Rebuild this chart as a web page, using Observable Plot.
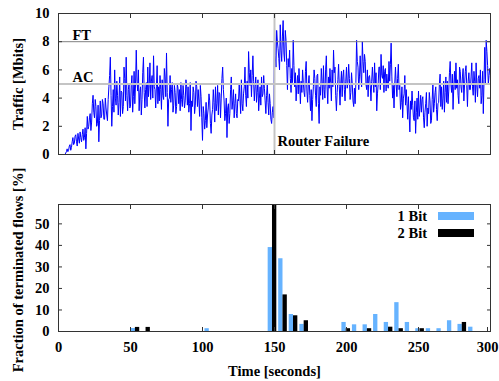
<!DOCTYPE html>
<html><head><meta charset="utf-8">
<script src="https://cdn.jsdelivr.net/npm/d3@7"></script>
<script src="https://cdn.jsdelivr.net/npm/@observablehq/plot@0.6"></script>
<style>
body{margin:0;background:#fff;}
#chart{position:relative;width:499px;height:381px;font-family:"Liberation Serif",serif;font-weight:bold;color:#000;}
#chart svg{display:block;}
.leg{position:absolute;font-size:14.5px;line-height:14px;white-space:nowrap;}
.sw{position:absolute;}
</style></head><body><div id="chart"></div>
<script>
// Traffic [Mbits] read at whole seconds (t = 0 .. 299)
const trafficWhole = [
0,0,0,0,0,0.1,0.4,0.3,0.7,0.5,
1.2,0.8,1.4,0.6,1.1,1.6,0.9,1.8,1.2,0.4,
2.7,2.0,2.9,2.3,4.2,2.6,3.4,2.2,0.9,3.8,
2.8,3.6,2.5,3.3,2.4,4.8,6.9,2.0,4.6,6.0,
3.5,4.2,3.7,2.7,4.4,3.4,5.4,6.9,3.1,5.0,
3.4,5.6,4.1,3.6,7.4,4.5,3.1,4.8,3.9,6.9,
3.3,5.1,6.2,4.9,3.9,5.6,7.0,4.6,4.8,3.6,
3.8,4.6,5.3,3.9,5.5,7.2,2.0,4.0,3.7,5.1,
3.5,4.4,3.4,4.7,4.6,5.1,3.4,4.2,3.8,4.8,
4.8,3.6,1.7,3.4,4.4,3.5,4.8,4.6,2.7,4.1,
1.0,2.9,2.4,1.9,3.3,3.8,1.5,3.2,3.7,4.8,
3.6,2.8,4.3,4.0,6.2,3.8,2.9,1.2,3.6,2.9,
5.5,3.8,2.6,4.3,2.6,3.8,4.0,5.3,3.1,4.8,
4.2,5.2,7.3,4.9,4.1,7.0,3.8,5.5,4.4,3.1,
4.8,5.5,4.3,4.7,2.9,5.0,2.8,3.6,2.2,3.4,
9.0,6.2,8.0,6.8,9.2,6.6,9.5,6.6,8.1,4.6,
6.2,5.4,6.1,8.1,4.8,3.8,5.6,6.1,3.6,4.4,
5.1,4.1,6.6,3.7,5.6,3.1,2.4,4.8,5.4,3.4,
5.7,2.2,4.2,5.2,6.3,4.0,7.0,3.6,4.7,5.1,
6.0,7.4,6.2,3.1,5.3,4.8,5.0,4.1,6.0,3.8,
6.2,5.1,5.4,4.4,5.0,3.4,3.6,8.1,6.2,5.5,
5.7,8.0,5.8,6.6,4.6,4.1,5.6,3.8,6.2,4.4,
4.8,3.1,5.0,6.2,7.1,5.4,4.4,6.1,5.7,4.7,
5.2,7.9,4.0,3.3,6.2,4.1,6.4,4.9,3.7,2.6,
4.3,3.5,3.6,4.1,1.6,3.2,3.5,2.4,1.5,4.0,
4.5,3.3,3.0,4.1,1.9,3.6,2.0,2.9,3.8,2.4,
5.0,3.6,4.8,2.4,3.7,5.7,4.8,4.0,3.0,5.5,
5.2,4.5,6.6,4.4,3.2,5.9,6.5,5.3,3.6,5.9,
4.4,6.1,5.0,6.3,3.4,5.8,4.6,6.5,4.2,5.2,
6.5,4.1,5.6,6.0,4.2,2.9,7.6,8.1,6.3,5.6
];
// Traffic [Mbits] read at half seconds (t = 0.5 .. 299.5)
const trafficHalf = [
0,0,0,0,0,0.2,0.2,0.6,0.3,0.9,
0.7,1.3,0.9,1.5,0.8,1.2,1.4,1.0,1.9,1.5,
1.8,2.6,1.7,3.6,3.0,3.9,2.0,3.5,2.4,2.6,
3.9,2.5,4.0,2.8,3.9,5.6,4.2,3.4,3.0,4.0,
5.2,2.8,5.5,4.5,2.9,6.2,3.8,4.2,4.6,3.3,
4.9,3.0,5.9,5.0,5.2,6.0,4.4,2.8,5.8,4.4,
4.6,3.4,4.1,6.5,5.2,4.0,4.8,3.3,6.3,4.8,
5.6,3.2,4.2,6.1,4.1,4.4,3.9,5.6,4.6,3.0,
4.9,2.9,5.0,3.6,3.1,3.9,4.9,3.3,5.3,3.5,
3.0,5.1,3.8,4.8,2.9,5.2,3.4,3.8,4.9,2.6,
3.4,1.8,3.7,2.8,4.3,2.2,2.8,4.6,2.3,3.1,
4.9,4.4,2.6,5.4,4.6,2.4,4.0,3.3,2.2,4.6,
3.2,4.6,3.6,2.9,3.9,5.0,2.9,3.6,4.3,6.2,
3.4,4.0,5.8,6.0,5.6,5.2,4.8,3.7,5.3,4.0,
3.5,4.1,5.6,3.8,4.2,3.7,4.3,2.5,3.0,2.6,
7.0,8.8,7.5,6.0,7.4,8.4,7.2,8.8,6.3,6.8,
7.4,4.4,5.1,6.3,5.8,4.9,4.3,5.0,5.2,6.0,
4.4,5.9,4.5,5.0,4.2,4.6,3.9,6.0,4.2,5.6,
3.6,4.8,6.1,3.9,4.6,6.0,4.8,5.5,6.1,3.8,
4.8,5.8,4.2,4.4,6.4,3.5,5.9,5.5,4.6,5.2,
4.7,6.4,3.9,5.8,3.8,4.7,5.1,6.6,4.6,7.0,
4.8,6.6,7.1,5.0,6.0,5.5,4.9,5.2,5.2,6.5,
5.8,4.3,6.2,4.6,5.6,6.3,5.9,4.5,5.0,6.6,
6.4,5.5,4.9,5.0,5.0,5.4,4.6,3.2,4.8,4.0,
5.6,4.6,2.5,2.8,3.8,4.5,2.6,3.8,3.0,2.5,
2.7,4.2,3.9,2.6,3.0,4.4,3.3,4.4,2.2,3.9,
3.0,4.4,3.2,3.6,5.0,3.4,3.2,5.2,4.4,3.7,
3.6,5.8,5.0,5.7,4.8,4.6,4.7,4.2,6.2,4.8,
5.5,3.8,5.9,4.9,5.2,4.6,5.5,4.8,5.9,3.7,
4.9,5.4,4.7,3.6,5.9,5.3,5.0,7.3,5.0,6.1
];
const thresholdLabels = ["FT", "AC"];
const thresholdValues = [8, 5];
const failureTimes = [150];
const failureLabels = ["Router Failure"];

// Fraction of terminated flows [%] per time bin
const binTimes = [53.4, 60.8, 104.7, 148.6, 155.9, 163.2, 170.6, 199.8, 207.1, 214.5, 221.8, 229.2, 236.5, 243.8, 251.1, 258.4, 265.8, 273.1, 280.4, 287.8];
const oneBit   = [1.4, 0, 1.3, 39, 33.8, 7.9, 3.3, 4.2, 3.1, 3.1, 7.9, 4.2, 13.4, 4.2, 1.3, 1.3, 1.3, 5.0, 3.3, 2.0];
const twoBit   = [1.9, 1.9, 0, 62, 17, 7.3, 5.0, 1.3, 0, 1.3, 0, 2.0, 1.3, 0, 1.3, 0, 0, 0, 4.2, 0];
const seriesNames = ["1 Bit", "2 Bit"];
const seriesColors = ["#66b3ff", "#000000"];

const xTicks = [0, 50, 100, 150, 200, 250, 300];
const topYTicks = [0, 2, 4, 6, 8, 10];
const botYTicks = [0, 10, 20, 30, 40, 50];

const traffic = [];
trafficWhole.forEach((v, i) => {
  traffic.push({t: i, v});
  traffic.push({t: i + 0.5, v: trafficHalf[i]});
});
const thresholds = thresholdValues.map((v, i) => ({v, label: thresholdLabels[i]}));
const failures = failureTimes.map((t, i) => ({t, label: failureLabels[i]}));
const bins = binTimes.map((t, i) => ({t, one: oneBit[i], two: twoBit[i]}));
const halfW = 3.0;

const style = {fontFamily: "'Liberation Serif', serif", fontSize: "14.5px", fontWeight: "bold", color: "#000", background: "transparent", overflow: "visible"};
const frameColor = "#333";

function frameAxes(yTicks, showX) {
  const marks = [
    Plot.axisY({anchor: "left", ticks: yTicks, tickSize: -4, tickPadding: 13, stroke: frameColor, label: null}),
    Plot.axisY({anchor: "right", ticks: yTicks, tickSize: -4, tickFormat: () => "", stroke: frameColor, label: null}),
    Plot.axisX({anchor: "top", ticks: xTicks, tickSize: -4, tickFormat: () => "", stroke: frameColor, label: null}),
    Plot.frame({stroke: frameColor})
  ];
  if (showX) {
    marks.push(Plot.axisX({anchor: "bottom", ticks: xTicks.slice(0, -1), tickSize: -4, tickPadding: 14, stroke: frameColor, label: null}));
    marks.push(Plot.axisX({anchor: "bottom", ticks: xTicks.slice(-1), tickSize: -4, tickPadding: 14, dx: -3, stroke: frameColor, label: null}));
  } else {
    marks.push(Plot.axisX({anchor: "bottom", ticks: xTicks, tickSize: -4, tickFormat: () => "", stroke: frameColor, label: null}));
  }
  return marks;
}

const topPlot = Plot.plot({
  width: 499, height: 170, marginTop: 13, marginBottom: 16, marginLeft: 58, marginRight: 9,
  style,
  x: {domain: [0, 300]},
  y: {domain: [0, 10]},
  marks: [
    Plot.line(traffic, {x: "t", y: "v", stroke: "#0000ff", strokeWidth: 1}),
    Plot.ruleY(thresholds.slice(0, 1), {y: "v", stroke: "#808080", strokeWidth: 1}),
    Plot.ruleY(thresholds.slice(1, 2), {y: "v", stroke: "#c4c4c4", strokeWidth: 2}),
    Plot.ruleX(failures, {x: "t", stroke: "#c4c4c4", strokeWidth: 2}),
    Plot.text(thresholds, {y: "v", text: "label", frameAnchor: "left", dx: 14, dy: -2, textAnchor: "start", lineAnchor: "bottom"}),
    Plot.text(failures, {x: "t", text: "label", frameAnchor: "bottom", dx: 3, dy: -9, textAnchor: "start", lineAnchor: "bottom"}),
    Plot.text(["Traffic [Mbits]"], {text: d => d, frameAnchor: "left", textAnchor: "middle", rotate: -90, dx: -40}),
    ...frameAxes(topYTicks, false)
  ]
});

const botPlot = Plot.plot({
  width: 499, height: 211, marginTop: 34, marginBottom: 50, marginLeft: 58, marginRight: 9,
  style,
  x: {domain: [0, 300]},
  y: {domain: [0, 59]},
  marks: [
    Plot.rectY(bins, {x1: d => d.t - halfW, x2: d => d.t, y: "one", fill: seriesColors[0], clip: true}),
    Plot.rectY(bins, {x1: d => d.t, x2: d => d.t + halfW, y: "two", fill: seriesColors[1], clip: true}),
    Plot.text(["Time [seconds]"], {text: d => d, frameAnchor: "bottom", dy: 44, lineAnchor: "bottom"}),
    Plot.text(["Fraction of terminated flows [%]"], {text: d => d, frameAnchor: "left", textAnchor: "middle", rotate: -90, dx: -40, dy: 2}),
    ...frameAxes(botYTicks, true)
  ]
});

const chart = document.getElementById("chart");
chart.appendChild(topPlot);
chart.appendChild(botPlot);

// legend (inside lower panel, top right)
seriesNames.forEach((name, i) => {
  const lab = document.createElement("div");
  lab.className = "leg";
  lab.textContent = name;
  lab.style.right = (499 - 427) + "px";
  lab.style.top = (209 + i * 17) + "px";
  chart.appendChild(lab);
  const sw = document.createElement("div");
  sw.className = "sw";
  sw.style.left = "438px";
  sw.style.top = (212 + i * 17) + "px";
  sw.style.width = "36px";
  sw.style.height = "8px";
  sw.style.background = seriesColors[i];
  chart.appendChild(sw);
});
</script></body></html>
